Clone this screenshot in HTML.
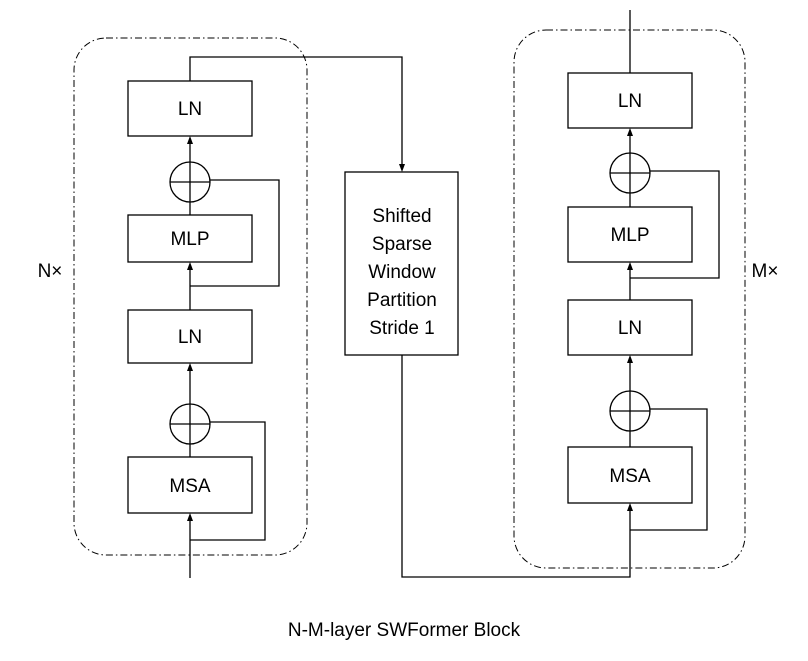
<!DOCTYPE html>
<html><head><meta charset="utf-8"><style>body{margin:0;background:#fff}</style></head><body>
<svg width="808" height="656" xmlns="http://www.w3.org/2000/svg" font-family="Liberation Sans, Arial, sans-serif">
<g fill="none" stroke="#000" stroke-width="1.3">
<rect x="74" y="38" width="233" height="517" rx="32" stroke-dasharray="7,3,1.5,3" stroke-width="1"/>
<rect x="514" y="30" width="231" height="538" rx="32" stroke-dasharray="7,3,1.5,3" stroke-width="1"/>
<rect x="128" y="81" width="124" height="55"/>
<rect x="128" y="215" width="124" height="47"/>
<rect x="128" y="310" width="124" height="53"/>
<rect x="128" y="457" width="124" height="56"/>
<circle cx="190" cy="182" r="20"/><line x1="170" y1="182" x2="210" y2="182"/><line x1="190" y1="162" x2="190" y2="202"/>
<circle cx="190" cy="424" r="20"/><line x1="170" y1="424" x2="210" y2="424"/><line x1="190" y1="404" x2="190" y2="444"/>
<line x1="190" y1="162" x2="190" y2="140"/>
<line x1="190" y1="215" x2="190" y2="202"/>
<line x1="190" y1="310" x2="190" y2="266"/>
<polyline points="210,180 279,180 279,286 190,286"/>
<line x1="190" y1="404" x2="190" y2="367"/>
<line x1="190" y1="457" x2="190" y2="444"/>
<line x1="190" y1="578" x2="190" y2="517"/>
<polyline points="210,422 265,422 265,540 190,540"/>
<polyline points="190,81 190,57 402,57 402,165"/>
<rect x="345" y="172" width="113" height="183"/>
<polyline points="402,355 402,577 630,577 630,507"/>
<rect x="568" y="73" width="124" height="55"/>
<rect x="568" y="207" width="124" height="55"/>
<rect x="568" y="300" width="124" height="55"/>
<rect x="568" y="447" width="124" height="56"/>
<line x1="630" y1="73" x2="630" y2="10"/>
<circle cx="630" cy="173" r="20"/><line x1="610" y1="173" x2="650" y2="173"/><line x1="630" y1="153" x2="630" y2="193"/>
<circle cx="630" cy="411" r="20"/><line x1="610" y1="411" x2="650" y2="411"/><line x1="630" y1="391" x2="630" y2="431"/>
<line x1="630" y1="153" x2="630" y2="132"/>
<line x1="630" y1="207" x2="630" y2="193"/>
<line x1="630" y1="300" x2="630" y2="266"/>
<polyline points="650,171 719,171 719,278 630,278"/>
<line x1="630" y1="391" x2="630" y2="359"/>
<line x1="630" y1="447" x2="630" y2="431"/>
<polyline points="650,409 707,409 707,530 630,530"/>
</g>
<g fill="#000">
<polygon points="190,136 187,144 193,144"/>
<polygon points="190,262 187,270 193,270"/>
<polygon points="190,363 187,371 193,371"/>
<polygon points="190,513 187,521 193,521"/>
<polygon points="402,172 399,164 405,164"/>
<polygon points="630,128 627,136 633,136"/>
<polygon points="630,262 627,270 633,270"/>
<polygon points="630,355 627,363 633,363"/>
<polygon points="630,503 627,511 633,511"/>
</g>
<g font-size="19" text-anchor="middle" fill="#000">
<text x="190" y="115">LN</text><text x="190" y="245">MLP</text><text x="190" y="343">LN</text><text x="190" y="492">MSA</text>
<text x="630" y="107">LN</text><text x="630" y="241">MLP</text><text x="630" y="334">LN</text><text x="630" y="482">MSA</text>
<text x="402" y="222">Shifted</text><text x="402" y="250">Sparse</text><text x="402" y="278">Window</text><text x="402" y="306">Partition</text><text x="402" y="334">Stride 1</text>
<text x="50" y="277">N×</text><text x="765" y="277">M×</text>
<text x="404" y="636">N-M-layer SWFormer Block</text>
</g>
</svg>
</body></html>
